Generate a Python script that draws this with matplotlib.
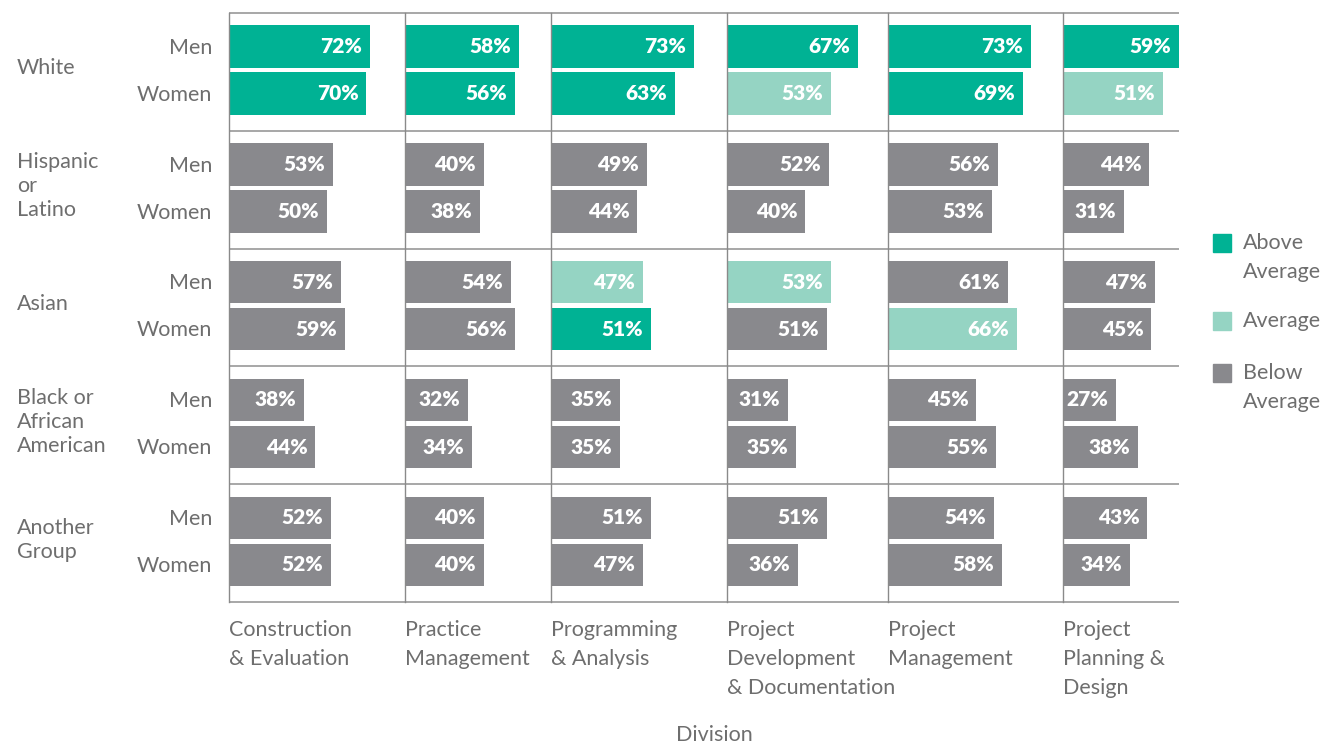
import numpy as np
import matplotlib.pyplot as plt

plt.rcParams["font.family"] = ["Lato", "DejaVu Sans"]

divisions = [
    "Construction\n& Evaluation",
    "Practice\nManagement",
    "Programming\n& Analysis",
    "Project\nDevelopment\n& Documentation",
    "Project\nManagement",
    "Project\nPlanning &\nDesign",
]
groups = ["White", "Hispanic\nor\nLatino", "Asian", "Black or\nAfrican\nAmerican", "Another\nGroup"]
genders = ["Men", "Women"]

men = [
    [72, 58, 73, 67, 73, 59],
    [53, 40, 49, 52, 56, 44],
    [57, 54, 47, 53, 61, 47],
    [38, 32, 35, 31, 45, 27],
    [52, 40, 51, 51, 54, 43],
]
women = [
    [70, 56, 63, 53, 69, 51],
    [50, 38, 44, 40, 53, 31],
    [59, 56, 51, 51, 66, 45],
    [44, 34, 35, 35, 55, 38],
    [52, 40, 47, 36, 58, 34],
]
# A = above average, M = average, B = below average
men_cat = [
    ["A", "A", "A", "A", "A", "A"],
    ["B", "B", "B", "B", "B", "B"],
    ["B", "B", "M", "M", "B", "B"],
    ["B", "B", "B", "B", "B", "B"],
    ["B", "B", "B", "B", "B", "B"],
]
women_cat = [
    ["A", "A", "A", "M", "A", "M"],
    ["B", "B", "B", "B", "B", "B"],
    ["B", "B", "A", "B", "M", "B"],
    ["B", "B", "B", "B", "B", "B"],
    ["B", "B", "B", "B", "B", "B"],
]
legend_labels = ["Above\nAverage", "Average", "Below\nAverage"]

colors = {"A": "#00B294", "M": "#95D4C3", "B": "#89898D"}
text_col = "#6e6e6e"
line_col = "#a0a0a0"

# column start offsets (in % units) and right edge
col_start = [0, 89.7, 164.0, 253.7, 335.7, 424.9]
x_end = 484.0

W, H = 1324, 744
fig = plt.figure(figsize=(W / 100, H / 100), dpi=100)
ax = fig.add_axes([229 / W, (H - 602) / H, 950 / W, 589 / H])
ax.set_xlim(0, x_end)
ax.set_ylim(len(groups), 0)
ax.axis("off")

bar_h = 0.36
offs = [0.285, 0.685]
label_fs = 15.5

for g in range(len(groups)):
    for k, (vals, cats) in enumerate([(men, men_cat), (women, women_cat)]):
        y = g + offs[k]
        for d in range(len(divisions)):
            v = vals[g][d]
            x0 = col_start[d]
            ax.barh(y, v, left=x0, height=bar_h, color=colors[cats[g][d]], linewidth=0)
            ax.text(x0 + v - 4.0, y, f"{v}%", ha="right", va="center",
                    color="white", fontsize=15, fontweight="heavy")

# grid lines
for g in range(len(groups) + 1):
    ax.plot([0, x_end], [g, g], color=line_col, lw=1.3, clip_on=False, solid_capstyle="butt")
for x0 in col_start:
    ax.plot([x0, x0], [0, len(groups)], color="#8a8a8a", lw=1, clip_on=False)

# group and gender labels
for g, name in enumerate(groups):
    yy = ax.transData.transform((0, g + 0.47))[1] / H
    fig.text(17 / W, yy, name, ha="left", va="center", fontsize=label_fs,
             color=text_col, linespacing=1.25)
    for k, gen in enumerate(genders):
        yy = ax.transData.transform((0, g + offs[k] + 0.01))[1] / H
        fig.text(212 / W, yy, gen, ha="right", va="center", fontsize=label_fs,
                 color=text_col)

# division labels
for d, name in enumerate(divisions):
    xx = ax.transData.transform((col_start[d], 0))[0] / W
    fig.text(xx, (H - 620) / H, name, ha="left", va="top", fontsize=label_fs,
             color=text_col, linespacing=1.55)
fig.text(714 / W, (H - 735) / H, "Division", ha="center", va="center",
         fontsize=label_fs, color=text_col)

# legend
leg_y = [243, 321, 373]
for lab, key, yy in zip(legend_labels, ["A", "M", "B"], leg_y):
    fig.patches.append(plt.Rectangle((1213 / W, (H - yy - 9) / H), 18 / W, 18 / H,
                                     transform=fig.transFigure, color=colors[key]))
    fig.text(1243 / W, (H - yy) / H + 0.013, lab, ha="left", va="top", fontsize=label_fs,
             color=text_col, linespacing=1.55)

fig.savefig("out.png", dpi=100)
